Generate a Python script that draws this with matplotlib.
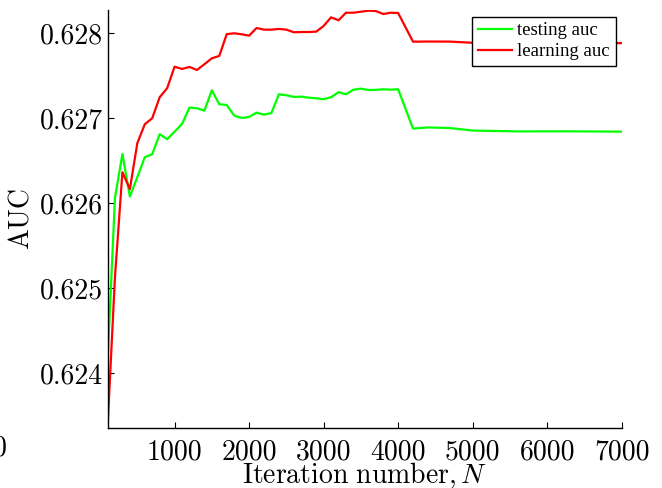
import matplotlib
matplotlib.use("Agg")
import matplotlib.pyplot as plt

plt.rcParams['mathtext.fontset'] = 'cm'
plt.rcParams['axes.unicode_minus'] = False

iterations = [100, 200, 300, 400, 500, 600, 700, 800, 900, 1000,
              1100, 1200, 1300, 1400, 1500, 1600, 1700, 1800, 1900, 2000,
              2100, 2200, 2300, 2400, 2500, 2600, 2700, 2800, 2900, 3000,
              3100, 3200, 3300, 3400, 3500, 3600, 3700, 3800, 3900, 4000,
              4200, 4400, 4700, 5000, 5600, 6300, 7000]

testing_auc = [0.624120, 0.626062, 0.626580, 0.626078, 0.626306, 0.626541, 0.626576, 0.626812, 0.626753, 0.626842,
               0.626933, 0.627125, 0.627118, 0.627089, 0.627329, 0.627165, 0.627156, 0.627031, 0.627004, 0.627015,
               0.627066, 0.627042, 0.627062, 0.627282, 0.627271, 0.627251, 0.627254, 0.627242, 0.627235, 0.627224,
               0.627247, 0.627306, 0.627282, 0.627336, 0.627348, 0.627333, 0.627333, 0.627341, 0.627336, 0.627341,
               0.626878, 0.626892, 0.626884, 0.626855, 0.626845, 0.626846, 0.626842]

learning_auc = [0.623350, 0.625130, 0.626365, 0.626165, 0.626706, 0.626929, 0.627000, 0.627247, 0.627353, 0.627607,
                0.627580, 0.627604, 0.627568, 0.627635, 0.627706, 0.627733, 0.627990, 0.628000, 0.627988, 0.627972,
                0.628062, 0.628043, 0.628043, 0.628051, 0.628043, 0.628012, 0.628015, 0.628015, 0.628019, 0.628086,
                0.628188, 0.628153, 0.628242, 0.628242, 0.628254, 0.628266, 0.628262, 0.628227, 0.628242, 0.628239,
                0.627901, 0.627903, 0.627902, 0.627888, 0.627885, 0.627884, 0.627884]

x_ticks = [1000, 2000, 3000, 4000, 5000, 6000, 7000]
y_ticks = [0.624, 0.625, 0.626, 0.627, 0.628]
y_tick_labels = ['0.624', '0.625', '0.626', '0.627', '0.628']

fig = plt.figure(figsize=(6.62, 4.88), dpi=100)
ax = fig.add_axes([0.1624, 0.1223, 0.7767, 0.8572])

ax.plot(iterations, testing_auc, color=(0, 1, 0), lw=1.6, label='testing auc')
ax.plot(iterations, learning_auc, color=(1, 0, 0), lw=1.6, label='learning auc')

ax.set_xlim(100, 7000)
ax.set_ylim(0.62335, 0.628274)

for s in ['top', 'right']:
    ax.spines[s].set_visible(False)
for s in ['left', 'bottom']:
    ax.spines[s].set_linewidth(1.0)

ax.set_xticks(x_ticks)
ax.set_xticklabels([str(t) for t in x_ticks], fontfamily='cmr10', fontsize=20)
ax.set_yticks(y_ticks)
ax.set_yticklabels(y_tick_labels, fontfamily='cmr10', fontsize=20)
ax.tick_params(axis='x', direction='in', length=4, pad=8)
ax.tick_params(axis='y', direction='in', length=4, pad=3)

fig.text(0.0, 0.082, '0', fontfamily='cmr10', fontsize=20, ha='center', va='center')

ax.set_xlabel(r'$\mathrm{Iteration\ number,}N$', fontsize=20, labelpad=-4)
ax.set_ylabel(r'$\mathrm{AUC}$', fontsize=20, labelpad=4)

leg = ax.legend(loc='upper right', bbox_to_anchor=(0.930, 0.9658), bbox_transform=fig.transFigure,
                borderaxespad=0, fancybox=False, framealpha=1, edgecolor='black',
                prop={'family': 'Liberation Serif', 'size': 13.5},
                handlelength=1.8, handletextpad=0.3, borderpad=0.3, labelspacing=0.2)
leg.get_frame().set_linewidth(1.0)

fig.savefig('out.png', dpi=100)
